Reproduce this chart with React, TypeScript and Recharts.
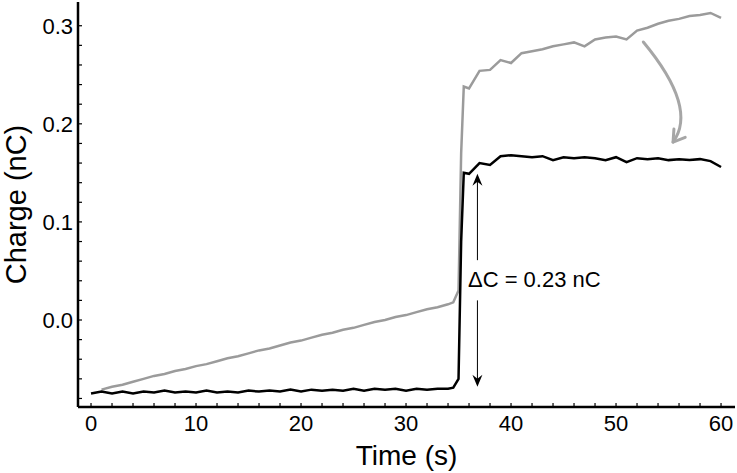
import { Line, LineChart, ReferenceDot, ReferenceLine, XAxis, YAxis } from 'recharts';

const time = [
  0, 1, 2, 3, 4, 5, 6, 7, 8, 9, 10, 11, 12, 13, 14, 15, 16, 17, 18, 19, 20, 21, 22, 23, 24, 25, 26, 27, 28, 29,
  30, 31, 32, 33, 34, 34.5, 35, 35.25, 35.5, 36, 37, 38, 39, 40, 41, 42, 43, 44, 45, 46, 47, 48, 49, 50, 51, 52,
  53, 54, 55, 56, 57, 58, 59, 60,
];

const after = [
  -0.075, -0.073, -0.075, -0.073, -0.075, -0.073, -0.074, -0.072, -0.074, -0.073, -0.074, -0.072, -0.074, -0.073,
  -0.074, -0.072, -0.073, -0.072, -0.073, -0.071, -0.073, -0.071, -0.072, -0.071, -0.072, -0.07, -0.072, -0.07,
  -0.071, -0.07, -0.072, -0.07, -0.071, -0.07, -0.07, -0.069, -0.06, 0.08, 0.15, 0.149, 0.16, 0.158, 0.167, 0.168,
  0.167, 0.166, 0.167, 0.163, 0.166, 0.165, 0.166, 0.165, 0.163, 0.166, 0.161, 0.165, 0.164, 0.165, 0.163, 0.164,
  0.163, 0.164, 0.162, 0.156,
];

const before = [
  null, -0.071, -0.068, -0.066, -0.063, -0.06, -0.057, -0.055, -0.052, -0.05, -0.047, -0.045, -0.042, -0.039,
  -0.037, -0.034, -0.031, -0.029, -0.026, -0.023, -0.021, -0.018, -0.015, -0.013, -0.01, -0.008, -0.005, -0.002,
  0.0, 0.003, 0.005, 0.008, 0.011, 0.013, 0.016, 0.018, 0.03, 0.17, 0.238, 0.236, 0.254, 0.255, 0.265, 0.262,
  0.272, 0.274, 0.276, 0.279, 0.281, 0.283, 0.279, 0.286, 0.288, 0.289, 0.286, 0.295, 0.298, 0.302, 0.305, 0.307,
  0.31, 0.311, 0.313, 0.308,
];

const xTicks = [
  0, 2, 4, 6, 8, 10, 12, 14, 16, 18, 20, 22, 24, 26, 28, 30, 32, 34, 36, 38, 40, 42, 44, 46, 48, 50, 52, 54, 56, 58, 60,
];
const yTicks = [-0.08, -0.06, -0.04, -0.02, 0, 0.02, 0.04, 0.06, 0.08, 0.1, 0.12, 0.14, 0.16, 0.18, 0.2, 0.22, 0.24, 0.26, 0.28, 0.3];

const data = time.map((t, i) => ({ t, after: after[i], before: before[i] }));

const FONT = '"Liberation Sans", Arial, Helvetica, sans-serif';

const fmtX = (v: number) => (v % 10 === 0 ? String(v) : '');
const fmtY = (v: number) => (Math.abs(v * 10 - Math.round(v * 10)) < 1e-6 ? v.toFixed(1) : '');

function ArrowShaft(props: any) {
  const { x1, y1, x2, y2, head } = props;
  const top = Math.min(y1, y2);
  const bot = Math.max(y1, y2);
  const tipY = head === 'up' ? top : bot;
  const d = head === 'up' ? 1 : -1;
  return (
    <g>
      <line x1={x1} y1={top + (head === 'up' ? 4 : 0)} x2={x2} y2={bot - (head === 'down' ? 4 : 0)} stroke="#000" strokeWidth={1} />
      <path
        d={`M${x1},${tipY} L${x1 - 5},${tipY + d * 12} L${x1},${tipY + d * 8} L${x1 + 5},${tipY + d * 12} Z`}
        fill="#000"
      />
    </g>
  );
}

function CurvedArrow(props: any) {
  const { x1, y1, x2, y2 } = props;
  const cx = x2 + 25;
  const cy = y1 + 0.66 * (y2 - y1);
  const dx = x2 - cx;
  const dy = y2 - cy;
  const len = Math.hypot(dx, dy);
  const ux = dx / len;
  const uy = dy / len;
  const a = 11;
  const w = 7;
  const bx = x2 - ux * a;
  const by = y2 - uy * a;
  return (
    <g fill="none" stroke="#a6a6a6" strokeWidth={3} strokeLinecap="round" strokeLinejoin="round">
      <path d={`M${x1},${y1} Q${cx},${cy} ${x2},${y2}`} />
      <path d={`M${bx - uy * w},${by + ux * w} L${x2},${y2} L${bx + uy * w},${by - ux * w}`} />
    </g>
  );
}

function DeltaLabel(props: any) {
  const { cx, cy } = props;
  return (
    <text x={cx} y={cy} fontFamily={FONT} fontSize={22} fill="#000">
      ΔC = 0.23 nC
    </text>
  );
}

function YTitle(props: any) {
  const vb = props.viewBox;
  return (
    <text
      transform={`translate(${vb.x + 26}, ${vb.y + vb.height / 2}) rotate(-90)`}
      textAnchor="middle"
      fontFamily={FONT}
      fontSize={29}
      fill="#000"
    >
      Charge (nC)
    </text>
  );
}

export default function App() {
  return (
    <div style={{ position: 'absolute', left: 0, top: 0, background: '#fff' }}>
      <LineChart width={737} height={473} data={data} margin={{ top: 2, right: 2, bottom: 0, left: 0 }}>
        <XAxis
          dataKey="t"
          type="number"
          domain={[-1.24, 61.33]}
          allowDataOverflow
          ticks={xTicks}
          interval={0}
          tickFormatter={fmtX}
          tickSize={-4}
          tickMargin={12}
          height={66}
          stroke="#000"
          axisLine={{ stroke: '#000', strokeWidth: 2.5 }}
          tickLine={{ stroke: '#000', strokeWidth: 1.2 }}
          tick={{ fill: '#000', fontSize: 22, fontFamily: FONT }}
          label={{ value: 'Time (s)', position: 'insideBottom', offset: 8, fill: '#000', fontSize: 28, fontFamily: FONT }}
        />
        <YAxis
          type="number"
          domain={[-0.0887, 0.3242]}
          allowDataOverflow
          ticks={yTicks}
          interval={0}
          tickFormatter={fmtY}
          tickSize={-4}
          tickMargin={9}
          width={78}
          stroke="#000"
          axisLine={{ stroke: '#000', strokeWidth: 2.5 }}
          tickLine={{ stroke: '#000', strokeWidth: 1.2 }}
          tick={{ fill: '#000', fontSize: 22, fontFamily: FONT }}
          label={{ content: YTitle }}
        />
        <Line
          dataKey="before"
          stroke="#9b9b9b"
          strokeWidth={2.5}
          dot={false}
          type="linear"
          isAnimationActive={false}
        />
        <Line
          dataKey="after"
          stroke="#000"
          strokeWidth={2.5}
          dot={false}
          type="linear"
          isAnimationActive={false}
        />
        <ReferenceLine
          segment={[
            { x: 36.8, y: 0.149 },
            { x: 36.8, y: 0.061 },
          ]}
          shape={(p: any) => <ArrowShaft {...p} head="up" />}
        />
        <ReferenceLine
          segment={[
            { x: 36.8, y: 0.02 },
            { x: 36.8, y: -0.068 },
          ]}
          shape={(p: any) => <ArrowShaft {...p} head="down" />}
        />
        <ReferenceLine
          segment={[
            { x: 52.6, y: 0.2834 },
            { x: 55.43, y: 0.1814 },
          ]}
          shape={(p: any) => <CurvedArrow {...p} />}
        />
        <ReferenceDot x={35.9} y={0.034} r={0} shape={(p: any) => <DeltaLabel {...p} />} />
      </LineChart>
    </div>
  );
}
